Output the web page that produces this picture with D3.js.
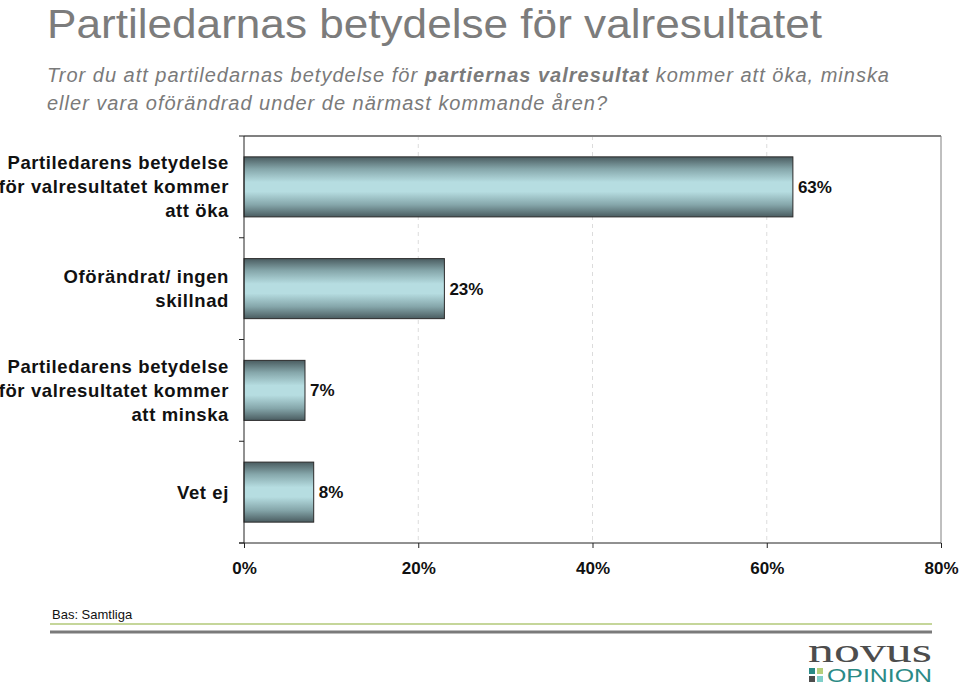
<!DOCTYPE html>
<html><head><meta charset="utf-8">
<script src="https://cdn.jsdelivr.net/npm/d3@7"></script>
<style>body{margin:0;background:#fff;}svg{display:block;font-family:Arial,"Liberation Sans",sans-serif;}</style>
</head><body>
<script>
const categories = [
  ["Partiledarens betydelse","för valresultatet kommer","att öka"],
  ["Oförändrat/ ingen","skillnad"],
  ["Partiledarens betydelse","för valresultatet kommer","att minska"],
  ["Vet ej"]
];
const values = [63, 23, 7, 8];
const xTicks = [0, 20, 40, 60, 80];
const xMax = 80;

(function(){
const W = 960, H = 686;
const svg = d3.select("body").append("svg").attr("width", W).attr("height", H);

const defs = svg.append("defs");
const grad = defs.append("linearGradient").attr("id","barGrad").attr("x1",0).attr("y1",0).attr("x2",0).attr("y2",1);
[[0,"#4a5c60"],[0.2,"#85a6aa"],[0.42,"#b6dde1"],[0.58,"#b6dde1"],[0.8,"#85a6aa"],[1,"#4a5c60"]]
  .forEach(([o,c])=>grad.append("stop").attr("offset",o).attr("stop-color",c));

// Title
svg.append("text").attr("x",47).attr("y",37.5).attr("font-size",41).attr("fill","#7c7c7c")
  .attr("textLength",775).attr("lengthAdjust","spacingAndGlyphs").text("Partiledarnas betydelse för valresultatet");
const sub = svg.append("text").attr("x",47).attr("y",82).attr("font-size",20).attr("font-style","italic").attr("fill","#7a7a7a")
  .attr("textLength",842).attr("lengthAdjust","spacing");
sub.append("tspan").text("Tror du att partiledarnas betydelse för ");
sub.append("tspan").attr("font-weight","bold").text("partiernas valresultat");
sub.append("tspan").text(" kommer att öka, minska");
svg.append("text").attr("x",47).attr("y",110).attr("font-size",20).attr("font-style","italic").attr("fill","#7a7a7a")
  .attr("textLength",560).attr("lengthAdjust","spacing").text("eller vara oförändrad under de närmast kommande åren?");

const pL = 244, pR = 941, pT = 136, pB = 543;
const x = d3.scaleLinear().domain([0, xMax]).range([pL, pR]);
const y = d3.scaleBand().domain(d3.range(values.length)).range([pT, pB]).paddingInner(0.41).paddingOuter(0.205);

// gridlines
svg.append("g").selectAll("line").data(xTicks.filter(t=>t>0 && t<xMax)).join("line")
  .attr("x1",d=>x(d)).attr("x2",d=>x(d)).attr("y1",pT).attr("y2",pB)
  .attr("stroke","#dcdcdc").attr("stroke-dasharray","4,4").attr("stroke-width",1);

// frame
svg.append("line").attr("x1",pL).attr("x2",pR).attr("y1",pT).attr("y2",pT).attr("stroke","#808080").attr("stroke-width",2);
svg.append("line").attr("x1",pR).attr("x2",pR).attr("y1",pT).attr("y2",pB).attr("stroke","#808080").attr("stroke-width",1);

// bars
svg.append("g").selectAll("rect").data(values).join("rect")
  .attr("x",x(0)).attr("y",(d,i)=>y(i)).attr("width",d=>x(d)-x(0)).attr("height",y.bandwidth())
  .attr("fill","url(#barGrad)").attr("stroke","#2a2a2a").attr("stroke-width",1);

// value labels
svg.append("g").selectAll("text").data(values).join("text")
  .attr("x",d=>x(d)+5).attr("y",(d,i)=>y(i)+y.bandwidth()/2).attr("dy","0.35em")
  .attr("font-size",17).attr("font-weight","bold").attr("fill","#111").text(d=>d+"%");

// x axis
const xAxis = d3.axisBottom(x).tickValues(xTicks).tickFormat(d=>d+"%").tickSize(5).tickPadding(14);
const gx = svg.append("g").attr("transform",`translate(0,${pB})`).call(xAxis);
gx.select(".domain").attr("stroke","#222").attr("d",`M${pL-5},0H${pR}`);
gx.selectAll(".tick line").attr("stroke","#222");
gx.selectAll("text").attr("font-size",17).attr("font-weight","bold").attr("fill","#111").attr("font-family","Arial,'Liberation Sans',sans-serif");

// y axis line and ticks between categories
svg.append("line").attr("x1",pL).attr("x2",pL).attr("y1",pT).attr("y2",pB).attr("stroke","#222");
const step = (pB-pT)/values.length;
svg.append("g").selectAll("line").data(d3.range(values.length+1)).join("line")
  .attr("x1",pL-5).attr("x2",pL).attr("y1",i=>pT+i*step).attr("y2",i=>pT+i*step).attr("stroke","#222");

// category labels
const cg = svg.append("g");
categories.forEach((lines,i)=>{
  const cy = y(i)+y.bandwidth()/2;
  const lh = 24;
  const t = cg.append("text").attr("text-anchor","end").attr("font-size",18.5).attr("font-weight","bold").attr("fill","#111").attr("letter-spacing","0.6");
  lines.forEach((l,j)=>{
    t.append("tspan").attr("x",pL-15).attr("y",cy+(j-(lines.length-1)/2)*lh).attr("dy","0.35em").text(l);
  });
});

// footer
svg.append("text").attr("x",52).attr("y",619).attr("font-size",13).attr("fill","#111").text("Bas: Samtliga");
svg.append("line").attr("x1",50).attr("x2",932).attr("y1",624).attr("y2",624).attr("stroke","#c5d69a").attr("stroke-width",2);
svg.append("line").attr("x1",50).attr("x2",932).attr("y1",632).attr("y2",632).attr("stroke","#7a7a7a").attr("stroke-width",3);

// logo
svg.append("text").attr("transform","translate(932,662) scale(1,1.5)").attr("text-anchor","end").attr("font-size",22)
  .attr("font-family","'Liberation Serif','DejaVu Serif',serif").attr("fill","#4d4d4d")
  .attr("textLength",124).attr("lengthAdjust","spacingAndGlyphs").text("novus");
svg.append("text").attr("x",932).attr("y",682).attr("text-anchor","end").attr("font-size",18.5).attr("fill","#2a8a86")
  .attr("textLength",105).attr("lengthAdjust","spacingAndGlyphs").text("OPINION");
const sq = [[809,668,"#2a8a86"],[817,668,"#b7cf7a"],[809,676,"#4d4d4d"],[817,676,"#7fcfc9"]];
svg.append("g").selectAll("rect").data(sq).join("rect").attr("x",d=>d[0]).attr("y",d=>d[1]).attr("width",6).attr("height",6).attr("fill",d=>d[2]);
})();
</script>
</body></html>
